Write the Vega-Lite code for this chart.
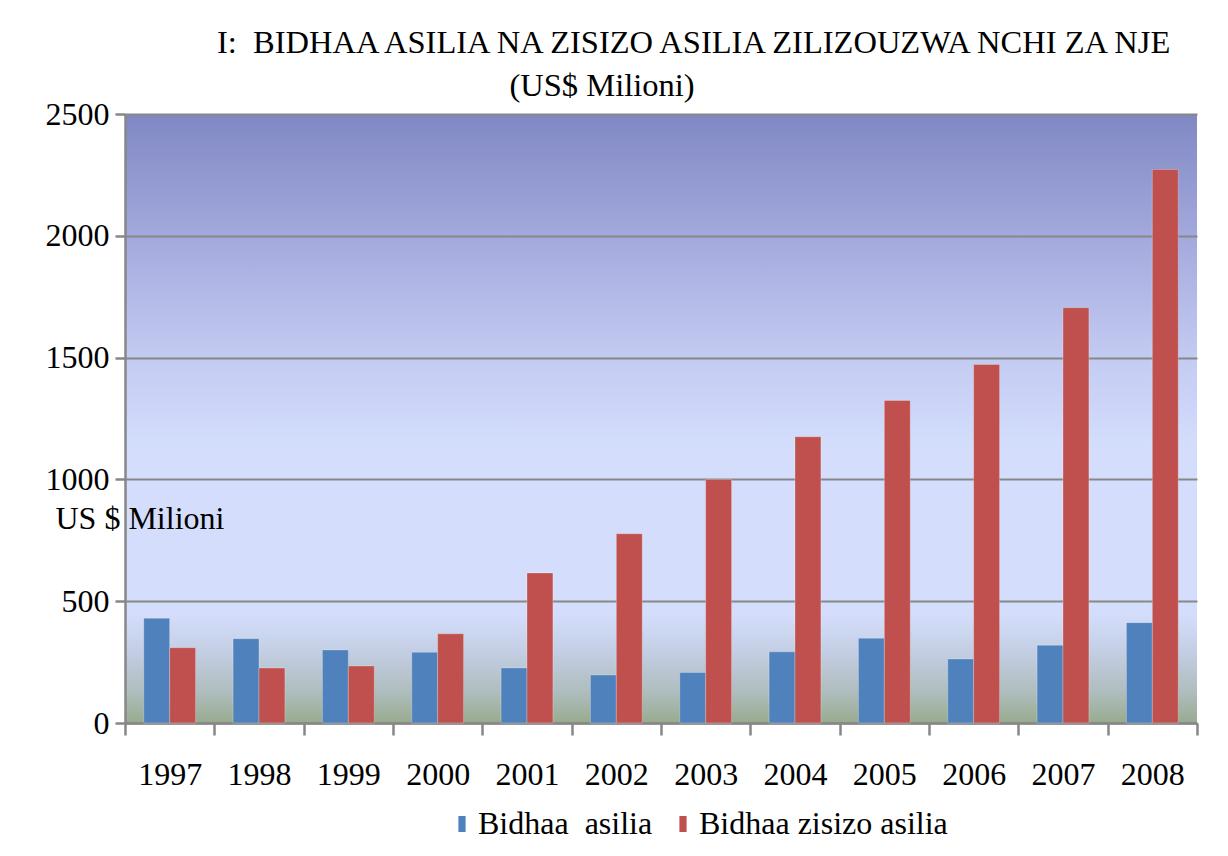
{
  "$schema": "https://vega.github.io/schema/vega-lite/v6.json",
  "autosize": "none",
  "width": 1072,
  "height": 609,
  "padding": {"left": 125, "top": 114, "right": 31, "bottom": 133},
  "background": "#ffffff",
  "title": {
    "text": "I:\u00a0 BIDHAA ASILIA NA ZISIZO ASILIA ZILIZOUZWA NCHI ZA NJE",
    "subtitle": "\u200b\u00a0\u00a0\u00a0\u00a0\u00a0\u00a0\u00a0\u00a0\u00a0\u00a0\u00a0\u00a0\u00a0\u00a0\u00a0\u00a0\u00a0\u00a0\u00a0\u00a0\u00a0\u00a0\u00a0\u00a0\u00a0\u00a0\u00a0\u00a0\u00a0\u00a0\u00a0\u00a0\u00a0\u00a0\u00a0\u00a0(US$ Milioni)",
    "anchor": "start",
    "frame": "group",
    "dx": 92,
    "offset": -4,
    "font": "Liberation Serif",
    "subtitleFont": "Liberation Serif",
    "fontSize": 32.5,
    "subtitleFontSize": 32.5,
    "fontWeight": "normal",
    "color": "#000000",
    "subtitleColor": "#000000",
    "subtitlePadding": 10
  },
  "data": {
    "values": [
      {"year": "1997", "series": "Bidhaa\u00a0 asilia", "value": 430},
      {"year": "1997", "series": "Bidhaa zisizo asilia", "value": 309},
      {"year": "1998", "series": "Bidhaa\u00a0 asilia", "value": 346},
      {"year": "1998", "series": "Bidhaa zisizo asilia", "value": 226},
      {"year": "1999", "series": "Bidhaa\u00a0 asilia", "value": 300},
      {"year": "1999", "series": "Bidhaa zisizo asilia", "value": 234},
      {"year": "2000", "series": "Bidhaa\u00a0 asilia", "value": 290},
      {"year": "2000", "series": "Bidhaa zisizo asilia", "value": 366},
      {"year": "2001", "series": "Bidhaa\u00a0 asilia", "value": 226},
      {"year": "2001", "series": "Bidhaa zisizo asilia", "value": 616},
      {"year": "2002", "series": "Bidhaa\u00a0 asilia", "value": 197},
      {"year": "2002", "series": "Bidhaa zisizo asilia", "value": 777},
      {"year": "2003", "series": "Bidhaa\u00a0 asilia", "value": 207},
      {"year": "2003", "series": "Bidhaa zisizo asilia", "value": 1000},
      {"year": "2004", "series": "Bidhaa\u00a0 asilia", "value": 292},
      {"year": "2004", "series": "Bidhaa zisizo asilia", "value": 1175},
      {"year": "2005", "series": "Bidhaa\u00a0 asilia", "value": 348},
      {"year": "2005", "series": "Bidhaa zisizo asilia", "value": 1324},
      {"year": "2006", "series": "Bidhaa\u00a0 asilia", "value": 263},
      {"year": "2006", "series": "Bidhaa zisizo asilia", "value": 1472},
      {"year": "2007", "series": "Bidhaa\u00a0 asilia", "value": 319},
      {"year": "2007", "series": "Bidhaa zisizo asilia", "value": 1705},
      {"year": "2008", "series": "Bidhaa\u00a0 asilia", "value": 412},
      {"year": "2008", "series": "Bidhaa zisizo asilia", "value": 2272}
    ]
  },
  "mark": {"type": "bar", "stroke": "#ffffff", "strokeOpacity": 0.25, "strokeWidth": 1},
  "encoding": {
    "x": {
      "field": "year",
      "type": "nominal",
      "scale": {"paddingInner": 0, "paddingOuter": 0},
      "axis": {
        "title": null,
        "labelAngle": 0,
        "tickBand": "extent",
        "tickSize": 12,
        "labelPadding": 24,
        "grid": false
      }
    },
    "xOffset": {
      "field": "series",
      "type": "nominal",
      "scale": {"domain": ["Bidhaa\u00a0 asilia", "Bidhaa zisizo asilia"], "paddingInner": 0, "paddingOuter": 0.724}
    },
    "y": {
      "field": "value",
      "type": "quantitative",
      "scale": {"domain": [0, 2500], "nice": false},
      "axis": {
        "values": [0, 500, 1000, 1500, 2000, 2500],
        "format": "d",
        "title": "US $ Milioni",
        "titleAngle": 0,
        "titleAlign": "left",
        "titleBaseline": "middle",
        "titleX": -70,
        "titleY": 404,
        "titleFont": "Liberation Serif",
        "titleFontSize": 32,
        "titleFontWeight": "normal",
        "titleColor": "#000000",
        "tickSize": 10,
        "labelPadding": 6,
        "grid": true,
        "gridColor": "#878787",
        "gridWidth": 2.2
      }
    },
    "color": {
      "field": "series",
      "type": "nominal",
      "scale": {"domain": ["Bidhaa\u00a0 asilia", "Bidhaa zisizo asilia"], "range": ["#4f81bd", "#c0504d"]},
      "legend": {
        "title": null,
        "orient": "none",
        "direction": "horizontal",
        "legendX": 321,
        "legendY": 694,
        "padding": 0,
        "symbolType": "M-0.45,-1L0.45,-1L0.45,1L-0.45,1Z",
        "symbolSize": 256,
        "symbolStrokeWidth": 0,
        "labelFont": "Liberation Serif",
        "labelFontSize": 32,
        "labelColor": "#000000",
        "labelOffset": 0,
        "columnPadding": 14,
        "labelLimit": 400
      }
    }
  },
  "config": {
    "view": {
      "stroke": null,
      "fill": {
        "gradient": "linear",
        "x1": 0, "y1": 0, "x2": 0, "y2": 1,
        "stops": [
          {"offset": 0, "color": "#8088c4"},
          {"offset": 0.2, "color": "#a3a9dc"},
          {"offset": 0.4, "color": "#c3cbf2"},
          {"offset": 0.55, "color": "#d4defc"},
          {"offset": 0.82, "color": "#d4defc"},
          {"offset": 0.88, "color": "#c4cfe5"},
          {"offset": 0.95, "color": "#aebdbd"},
          {"offset": 1, "color": "#98ab8e"}
        ]
      }
    },
    "axis": {
      "labelFont": "Liberation Serif",
      "labelFontSize": 32,
      "labelColor": "#000000",
      "domainColor": "#878787",
      "domainWidth": 2.5,
      "tickColor": "#878787",
      "tickWidth": 2.5
    }
  }
}
